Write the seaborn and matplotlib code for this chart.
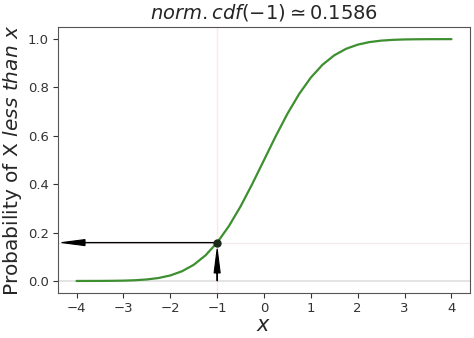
import matplotlib
matplotlib.use("Agg")
import matplotlib.pyplot as plt
import seaborn as sns

xs = [-4.0, -3.75, -3.5, -3.25, -3.0, -2.75, -2.5, -2.25, -2.0, -1.75, -1.5, -1.25,
      -1.0, -0.75, -0.5, -0.25, 0.0, 0.25, 0.5, 0.75, 1.0, 1.25, 1.5, 1.75,
      2.0, 2.25, 2.5, 2.75, 3.0, 3.25, 3.5, 3.75, 4.0]
cdf = [0.0000, 0.0001, 0.0002, 0.0006, 0.0013, 0.0030, 0.0062, 0.0122, 0.0228,
       0.0401, 0.0668, 0.1056, 0.1587, 0.2266, 0.3085, 0.4013, 0.5000, 0.5987,
       0.6915, 0.7734, 0.8413, 0.8944, 0.9332, 0.9599, 0.9772, 0.9878, 0.9938,
       0.9970, 0.9987, 0.9994, 0.9998, 0.9999, 1.0000]
point_x = -1.0
point_p = 0.1586

sns.set_style("ticks")
fig = plt.figure(figsize=(4.74, 3.38), dpi=100)
ax = fig.add_axes([0.122, 0.133, 0.870, 0.787])

ax.axvline(point_x, color="#ff9999", alpha=0.25, lw=1)
ax.axhline(point_p, color="#cc9999", alpha=0.2, lw=1)
ax.axhline(0, color="gray", alpha=0.25, lw=1.2)

sns.lineplot(x=xs, y=cdf, color="#3d8f30", lw=1.6, ax=ax)

ax.arrow(point_x, point_p, -2.82, 0, head_width=0.025, head_length=0.5,
         fc="black", ec="black", lw=0.8, zorder=4)
ax.arrow(point_x, 0, 0, 0.033, head_width=0.13, head_length=0.1,
         fc="black", ec="black", lw=0.8, zorder=4)
ax.scatter([point_x], [point_p], s=25, color="#1a2a1a", zorder=5)

ax.set_xlim(-4.4, 4.4)
ax.set_ylim(-0.05, 1.05)
ax.set_xticks([-4, -3, -2, -1, 0, 1, 2, 3, 4])
ax.set_yticks([0.0, 0.2, 0.4, 0.6, 0.8, 1.0])
ax.tick_params(labelsize=9.5, colors="#333333", pad=3)
for s in ax.spines.values():
    s.set_color("#555555")

ax.set_title(r"$norm.cdf(-1) \simeq 0.1586$", fontsize=14)
ax.set_xlabel(r"$x$", fontsize=15, labelpad=0)
ax.set_ylabel(r"Probability of X $less\ than\ x$", fontsize=14.5, labelpad=3)

fig.savefig("out.png", dpi=100)
